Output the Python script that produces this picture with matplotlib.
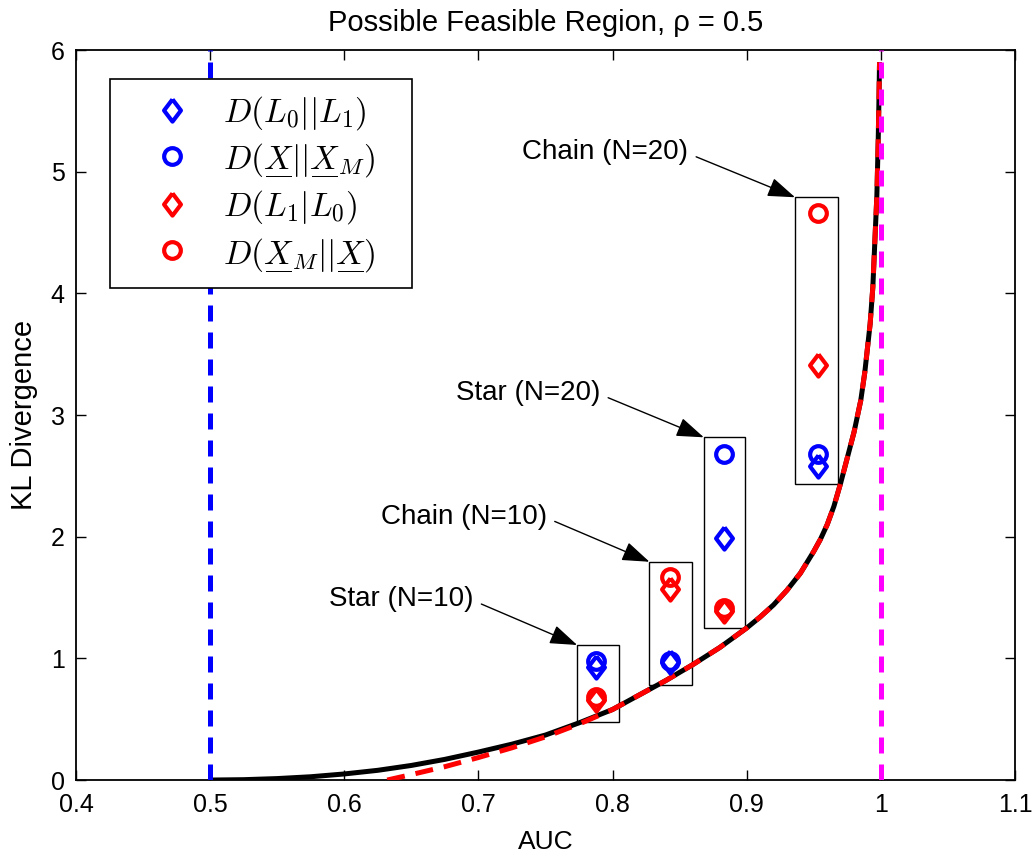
import matplotlib
matplotlib.use('Agg')
import matplotlib.pyplot as plt
from matplotlib.mathtext import MathTextParser

plt.rcParams['font.family'] = ['Liberation Sans', 'DejaVu Sans']
plt.rcParams['mathtext.fontset'] = 'cm'

# black curve (bound)
curve_auc = [0.5, 0.525, 0.55, 0.575, 0.6, 0.625, 0.65, 0.675, 0.7, 0.725, 0.75, 0.775,
             0.8, 0.82, 0.84, 0.86, 0.88, 0.9, 0.91, 0.92, 0.93, 0.94, 0.95, 0.955,
             0.96, 0.965, 0.97, 0.975, 0.98, 0.985, 0.988, 0.99, 0.992, 0.994,
             0.995, 0.996, 0.997, 0.998, 0.9985, 0.999]
curve_kl = [0, 0.003, 0.012, 0.027, 0.05, 0.08, 0.12, 0.17, 0.23, 0.295, 0.37, 0.47,
            0.58, 0.70, 0.82, 0.95, 1.09, 1.25, 1.34, 1.44, 1.56, 1.70, 1.88, 1.98,
            2.10, 2.25, 2.44, 2.65, 2.86, 3.12, 3.35, 3.55, 3.75, 4.05,
            4.30, 4.55, 4.80, 5.25, 5.55, 5.90]
# red dashed approximation, low part (joins the black curve from 0.8 on)
approx_auc = [0.632, 0.65, 0.675, 0.7, 0.725, 0.75, 0.775]
approx_kl = [0, 0.045, 0.11, 0.185, 0.265, 0.355, 0.46]

# simulated networks: Star N=10, Chain N=10, Star N=20, Chain N=20
net_names = ['Star (N=10)', 'Chain (N=10)', 'Star (N=20)', 'Chain (N=20)']
net_auc = [0.788, 0.843, 0.883, 0.953]
kl_l0_l1 = [0.93, 0.97, 1.99, 2.58]
kl_x_xm = [0.98, 0.98, 2.68, 2.68]
kl_l1_l0 = [0.66, 1.57, 1.39, 3.41]
kl_xm_x = [0.68, 1.67, 1.41, 4.66]

box_auc_lo = [0.7736, 0.8275, 0.868, 0.936]
box_auc_hi = [0.805, 0.859, 0.899, 0.968]
box_kl_lo = [0.48, 0.78, 1.247, 2.43]
box_kl_hi = [1.11, 1.794, 2.817, 4.79]

# right end of each label text
label_auc = [0.6963, 0.751, 0.7908, 0.8564]
label_kl = [1.485, 2.164, 3.18, 5.16]

fig = plt.figure(figsize=(10.35, 8.57), dpi=100)
ax = fig.add_axes([0.0734, 0.0898, 0.9073, 0.8518])

lw = 3.6
ax.plot([0.5, 0.5], [0, 6], color='#0000FF', lw=lw, dashes=(3.2, 2.2),
        dash_capstyle='butt', zorder=4)
ax.plot(curve_auc, curve_kl, color='k', lw=lw, solid_capstyle='butt', zorder=2)
i0 = curve_auc.index(0.8)
ax.plot(approx_auc + curve_auc[i0:], approx_kl + curve_kl[i0:], color='#FF0000', lw=lw,
        dashes=(3.6, 2.2), dash_capstyle='butt', zorder=3)
ax.plot([1.0, 1.0], [0, 6], color='#FF00FF', lw=lw, dashes=(3.2, 2.2),
        dash_capstyle='butt', zorder=4)

for x0, x1, y0, y1 in zip(box_auc_lo, box_auc_hi, box_kl_lo, box_kl_hi):
    ax.add_patch(plt.Rectangle((x0, y0), x1 - x0, y1 - y0, fill=False,
                               ec='k', lw=1.0, zorder=1))

diamond = [(0, 1), (0.76, 0), (0, -1), (-0.76, 0), (0, 1)]
mk = dict(ls='none', mfc='none', mew=3, zorder=5)
h1, = ax.plot(net_auc, kl_l0_l1, marker=diamond, ms=16, mec='#0000FF', **mk)
h2, = ax.plot(net_auc, kl_x_xm, marker='o', ms=12, mec='#0000FF', **mk)
h3, = ax.plot(net_auc, kl_l1_l0, marker=diamond, ms=16, mec='#FF0000', **mk)
h4, = ax.plot(net_auc, kl_xm_x, marker='o', ms=12, mec='#FF0000', **mk)

for name, tx, ty, x0, y1 in zip(net_names, label_auc, label_kl, box_auc_lo, box_kl_hi):
    ax.annotate(name, xy=(x0, y1), xytext=(tx, ty), ha='right', va='center',
                fontsize=20,
                arrowprops=dict(arrowstyle='-|>,head_length=1.7,head_width=0.6',
                                mutation_scale=10, color='k', lw=1.0,
                                relpos=(1.0, 0.45), shrinkA=4, shrinkB=0))

# underlined X (mathtext may lack \underline)
try:
    MathTextParser('path').parse(r'$\underline{X}$')
    u = r'\underline{X}'
except Exception:
    u = r'\underset{\overline{\quad\,}}{X}'
labels = [r'$D(L_0||L_1)$',
          r'$D(' + u + '||' + u + r'_M)$',
          r'$D(L_1|L_0)$',
          r'$D(' + u + '_M||' + u + r')$']
leg = ax.legend([h1, h2, h3, h4], labels, loc='upper left', mode='expand',
                bbox_to_anchor=(0.0362, 0.0, 0.3216, 0.96), borderaxespad=0,
                fontsize=24, fancybox=False, edgecolor='k', framealpha=1,
                handlelength=2.8, handletextpad=0.15, labelspacing=0.3,
                borderpad=0.45)
leg.get_frame().set_linewidth(1.2)

ax.set_xlim(0.4, 1.1)
ax.set_ylim(0, 6)
ax.set_xticks([0.4, 0.5, 0.6, 0.7, 0.8, 0.9, 1.0, 1.1])
ax.set_xticklabels(['0.4', '0.5', '0.6', '0.7', '0.8', '0.9', '1', '1.1'])
ax.set_yticks([0, 1, 2, 3, 4, 5, 6])
ax.tick_params(direction='in', length=7, width=1, top=True, right=True, labelsize=18)
ax.tick_params(axis='x', pad=9)
ax.tick_params(axis='y', pad=8)
for s in ax.spines.values():
    s.set_linewidth(1.3)

ax.set_title('Possible Feasible Region, ρ = 0.5', fontsize=21, pad=14)
ax.set_xlabel('AUC', fontsize=19, labelpad=10)
ax.set_ylabel('KL Divergence', fontsize=21, labelpad=9)

fig.savefig('out.png', dpi=100)
